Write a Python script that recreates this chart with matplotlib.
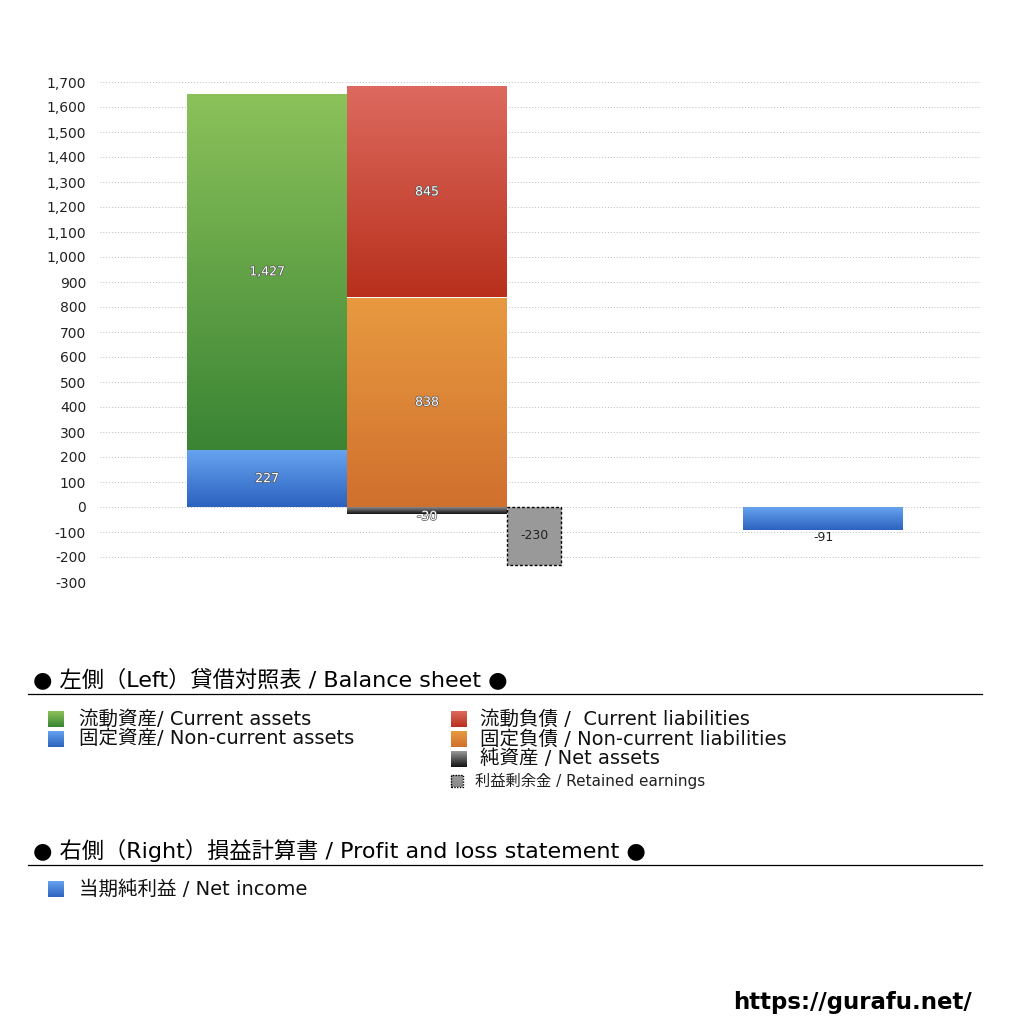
import numpy as np
import matplotlib
matplotlib.use("Agg")
import matplotlib.pyplot as plt
import matplotlib.patheffects as pe
from matplotlib.colors import to_rgb
from matplotlib.patches import Rectangle
from matplotlib.lines import Line2D

plt.rcParams['font.family'] = ['DejaVu Sans', 'Noto Sans CJK JP']

# --- data (百万円) ---
current_assets = 1427
noncurrent_assets = 227
current_liab = 845
noncurrent_liab = 838
net_assets = -30
retained_earnings = -230
net_income = -91

yticks = list(range(-300, 1701, 100))

# gradient colours (top, bottom)
C_GREEN = ('#8cc25a', '#3a8434')
C_BLUE = ('#66a3f0', '#2c62bf')
C_RED = ('#dd6a5f', '#b8301c')
C_ORANGE = ('#e89a40', '#d0702e')
C_BLACK = ('#9a9a9a', '#111111')


def grad_img(ax, c_top, c_bot, extent, clip=None):
    t = np.linspace(0, 1, 256)[:, None, None]
    img = (1 - t) * np.array(to_rgb(c_top)) + t * np.array(to_rgb(c_bot))
    im = ax.imshow(img, extent=extent, aspect='auto', origin='upper',
                   interpolation='bilinear', zorder=3)
    if clip is not None:
        im.set_clip_path(clip)
    return im


def gbar(ax, x, h, bottom, w, cols):
    p = ax.bar(x, h, w, bottom=bottom, align='edge', color='none',
               linewidth=0, zorder=3)[0]
    y0, y1 = bottom, bottom + h
    grad_img(ax, cols[0], cols[1], [x, x + w, min(y0, y1), max(y0, y1)], clip=p)
    return p


fig = plt.figure(figsize=(10.24, 10.24), dpi=100)
W = H = 1024.0
ax = fig.add_axes([100 / W, 1 - 582 / H, 880 / W, 500 / H])
ax.set_xlim(0, 5.5)
ax.set_ylim(-300, 1700)

# positions in slot units
xa, xl, xr, xn = 0.544, 1.544, 2.544, 4.019
bw = 1.0
rw = 0.3375

gbar(ax, xa, noncurrent_assets, 0, bw, C_BLUE)
gbar(ax, xa, current_assets, noncurrent_assets, bw, C_GREEN)
gbar(ax, xl, noncurrent_liab, 0, bw, C_ORANGE)
gbar(ax, xl, current_liab, noncurrent_liab, bw, C_RED)
gbar(ax, xl, net_assets, 0, bw, C_BLACK)
ax.bar(xr, retained_earnings, rw, align='edge', color='#999999',
       edgecolor='black', linestyle=(0, (2, 1.5)), linewidth=1, zorder=3)
gbar(ax, xn, net_income, 0, bw, C_BLUE)

ax.set_yticks(yticks)
ax.set_yticklabels([f'{v:,}' for v in yticks])
ax.set_xticks([])
ax.tick_params(axis='y', length=0, labelsize=10, labelcolor='#222222', pad=10)
ax.grid(axis='y', color='#bbbbbb', linestyle=(0, (1, 2)), linewidth=0.7)
ax.set_axisbelow(True)
for s in ax.spines.values():
    s.set_visible(False)

white_fx = [pe.withStroke(linewidth=1.0, foreground='#555555')]
lbl = dict(ha='center', va='center', fontsize=9, zorder=5)
ax.text(xa + bw / 2, noncurrent_assets + current_assets / 2, f'{current_assets:,}',
        color='white', path_effects=white_fx, **lbl)
ax.text(xa + bw / 2, noncurrent_assets / 2, f'{noncurrent_assets:,}',
        color='white', path_effects=white_fx, **lbl)
ax.text(xl + bw / 2, noncurrent_liab + current_liab / 2, f'{current_liab:,}',
        color='white', path_effects=white_fx, **lbl)
ax.text(xl + bw / 2, noncurrent_liab / 2, f'{noncurrent_liab:,}',
        color='white', path_effects=white_fx, **lbl)
ax.text(xl + bw / 2, net_assets - 8, f'{net_assets:,}',
        color='white', path_effects=white_fx, **lbl)
ax.text(xr + rw / 2, retained_earnings / 2 + 2, f'{retained_earnings:,}',
        color='#222222', **lbl)
ax.text(xn + bw / 2, net_income - 30, f'{net_income:,}', color='#222222', **lbl)


# --- legend block ---
def fy(py):
    return 1 - py / H


def swatch(px, py, size, cols, dashed=False):
    a = fig.add_axes([px / W, fy(py + size), size / W, size / H])
    a.set_xlim(0, 1)
    a.set_ylim(0, 1)
    grad_img(a, cols[0], cols[1], [0, 1, 0, 1])
    a.axis('off')
    if dashed:
        a.add_patch(Rectangle((0, 0), 1, 1, fill=False, edgecolor='black',
                              linestyle=(0, (1, 1)), linewidth=1,
                              transform=a.transAxes, clip_on=False, zorder=5))


fig.text(33 / W, fy(679), '● 左側（Left）貸借対照表 / Balance sheet ●',
         fontsize=16, va='center', ha='left', color='black')
fig.add_artist(Line2D([28 / W, 982 / W], [fy(694), fy(694)], color='black', lw=0.9))

items_l = [('流動資産/ Current assets', C_GREEN, 719),
           ('固定資産/ Non-current assets', C_BLUE, 739)]
items_r = [('流動負債 /  Current liabilities', C_RED, 719),
           ('固定負債 / Non-current liabilities', C_ORANGE, 739),
           ('純資産 / Net assets', C_BLACK, 759)]
for text, cols, py in items_l:
    swatch(48, py - 8, 16, cols)
    fig.text(79 / W, fy(py), text, fontsize=14, va='center', ha='left', color='#111111')
for text, cols, py in items_r:
    swatch(451, py - 8, 16, cols)
    fig.text(480 / W, fy(py), text, fontsize=14, va='center', ha='left', color='#111111')
swatch(451, 775, 12, ('#9a9a9a', '#8a8a8a'), dashed=True)
fig.text(475 / W, fy(781), '利益剰余金 / Retained earnings', fontsize=11,
         va='center', ha='left', color='#222222')

fig.text(33 / W, fy(850), '● 右側（Right）損益計算書 / Profit and loss statement ●',
         fontsize=16, va='center', ha='left', color='black')
fig.add_artist(Line2D([28 / W, 982 / W], [fy(865), fy(865)], color='black', lw=0.9))
swatch(48, 881, 16, C_BLUE)
fig.text(79 / W, fy(889), '当期純利益 / Net income', fontsize=14,
         va='center', ha='left', color='#111111')

fig.text(972 / W, fy(1003), 'https://gurafu.net/', fontsize=16.5, fontweight='bold',
         ha='right', va='center', color='black')

fig.savefig('out.png', dpi=100)
